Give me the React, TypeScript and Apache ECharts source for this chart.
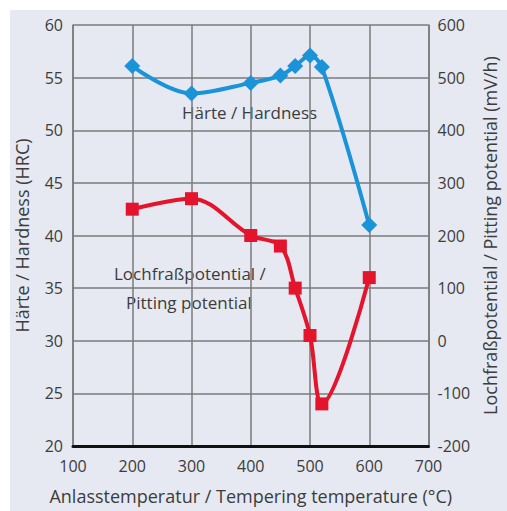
import React, { useEffect, useRef } from "react";
import * as echarts from "echarts";

const temps = [200, 300, 400, 450, 475, 500, 520, 600];
const hardness = [56.1, 53.5, 54.5, 55.2, 56.1, 57.1, 56.0, 41.0];
const pitting = [250, 270, 200, 180, 100, 10, -120, 120];

const xTitle = "Anlasstemperatur / Tempering temperature (°C)";
const yLeftTitle = "Härte / Hardness (HRC)";
const yRightTitle = "Lochfraßpotential / Pitting potential (mV/h)";
const hardLabel = "Härte / Hardness";
const pitLabel1 = "Lochfraßpotential /";
const pitLabel2 = "Pitting potential";

const FONT = "Open Sans";
const TXT = "#3c3c3c";
const GRID = "#7a7a7a";

export default function App() {
  const ref = useRef<HTMLDivElement>(null);
  useEffect(() => {
    const chart = echarts.init(ref.current!, null, { renderer: "svg" });
    chart.setOption({
      animation: false,
      backgroundColor: "#ffffff",
      textStyle: { fontFamily: FONT },
      graphic: [
        { type: "rect", left: 10, top: 10, shape: { width: 497, height: 501 }, style: { fill: "#e6e9f1" }, z: -10 },
        { type: "text", left: 182, top: 104, style: { text: hardLabel, fontSize: 17, fontFamily: FONT, fill: TXT } },
        { type: "text", left: 114, top: 265, style: { text: pitLabel1, fontSize: 17, fontFamily: FONT, fill: TXT } },
        { type: "text", left: 126, top: 294, style: { text: pitLabel2, fontSize: 17, fontFamily: FONT, fill: TXT } },
      ],
      grid: { left: 73, top: 25, right: 67, bottom: 65 },
      xAxis: {
        type: "value",
        min: 100,
        max: 700,
        interval: 100,
        name: xTitle,
        nameLocation: "middle",
        nameGap: 41,
        nameTextStyle: { fontSize: 18, color: TXT, fontFamily: FONT },
        axisLine: { show: true, onZero: false, lineStyle: { color: "#111", width: 3 } },
        axisTick: { show: false },
        axisLabel: { fontSize: 16, color: TXT, margin: 12, fontFamily: FONT },
        splitLine: { show: true, lineStyle: { color: GRID, width: 1.5 } },
      },
      yAxis: [
        {
          type: "value",
          min: 20,
          max: 60,
          interval: 5,
          name: yLeftTitle,
          nameLocation: "middle",
          nameGap: 42,
          nameRotate: 90,
          nameTextStyle: { fontSize: 18, color: TXT, fontFamily: FONT },
          axisLine: { show: true, lineStyle: { color: GRID, width: 1.5 } },
          axisTick: { show: false },
          axisLabel: { fontSize: 16, color: TXT, margin: 10, fontFamily: FONT },
          splitLine: { show: true, lineStyle: { color: GRID, width: 1.5 } },
        },
        {
          type: "value",
          min: -200,
          max: 600,
          interval: 100,
          position: "right",
          name: yRightTitle,
          nameLocation: "middle",
          nameGap: 50,
          nameRotate: 90,
          nameTextStyle: { fontSize: 18, color: TXT, fontFamily: FONT },
          axisLine: { show: true, lineStyle: { color: GRID, width: 1.5 } },
          axisTick: { show: false },
          axisLabel: { fontSize: 16, color: TXT, margin: 9, fontFamily: FONT },
          splitLine: { show: false },
        },
      ],
      series: [
        {
          type: "line",
          yAxisIndex: 0,
          data: temps.map((t, i) => [t, hardness[i]]),
          smooth: 0.35,
          symbol: "diamond",
          symbolSize: 16,
          lineStyle: { color: "#1a93d8", width: 4 },
          itemStyle: { color: "#1a93d8" },
        },
        {
          type: "line",
          yAxisIndex: 1,
          data: temps.map((t, i) => [t, pitting[i]]),
          smooth: 0.35,
          symbol: "rect",
          symbolSize: 13,
          lineStyle: { color: "#e5142d", width: 4 },
          itemStyle: { color: "#e5142d" },
        },
      ],
    });
    return () => chart.dispose();
  }, []);
  return <div ref={ref} style={{ width: 507, height: 511, position: "absolute", left: 0, top: 0 }} />;
}
